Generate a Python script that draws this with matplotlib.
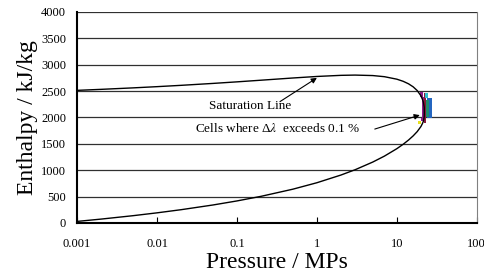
import numpy as np
import matplotlib
matplotlib.use('Agg')
import matplotlib.pyplot as plt

plt.rcParams['font.family'] = ['Liberation Serif', 'DejaVu Serif']
plt.rcParams['mathtext.fontset'] = 'stix'

# Saturation line of water (pressure MPa, enthalpy kJ/kg)
p_sat = [0.001, 0.002, 0.005, 0.01, 0.02, 0.05, 0.1, 0.2, 0.5, 1, 2, 3, 5, 7,
         10, 12, 14, 16, 18, 20, 21, 21.5, 22.0, 22.064]
h_liq = [29.3, 73.4, 137.7, 191.8, 251.4, 340.5, 417.5, 504.7, 640.1, 762.5,
         908.5, 1008.3, 1154.5, 1267.4, 1407.9, 1491.5, 1571.6, 1650.5,
         1732.2, 1827.1, 1889.4, 1930.0, 2011.0, 2084.3]
h_vap = [2513.7, 2532.9, 2560.7, 2583.9, 2608.9, 2645.2, 2674.9, 2706.2,
         2748.1, 2777.1, 2798.3, 2803.2, 2794.2, 2772.6, 2725.5, 2685.4,
         2637.9, 2580.8, 2509.5, 2411.4, 2337.0, 2287.0, 2195.0, 2084.3]

# Cells where the deviation exceeds 0.1 % (pressure range, enthalpy range)
cell_p_lo = [24.0, 22.8, 21.6, 22.4, 19.6, 20.6, 19.8, 18.6]
cell_p_hi = [27.4, 25.0, 23.4, 24.6, 21.4, 22.0, 21.4, 20.0]
cell_h_lo = [1990, 2000, 1900, 2370, 2380, 1980, 1930, 1875]
cell_h_hi = [2370, 2330, 2460, 2460, 2480, 2380, 1990, 1930]
cell_colors = ['#2466C0', '#1F8F6F', '#8B1A3A', '#30C0D0',
               '#8B1A8B', '#8B1A8B', '#8B1A8B', '#E8E020']

yticks = [0, 500, 1000, 1500, 2000, 2500, 3000, 3500, 4000]
xticks = [0.001, 0.01, 0.1, 1, 10, 100]
xticklabels = ['0.001', '0.01', '0.1', '1', '10', '100']

fig = plt.figure(figsize=(4.85, 2.78), dpi=100)
ax = fig.add_axes([0.159, 0.198, 0.824, 0.759])

for y in yticks:
    ax.axhline(y, color='#303030', lw=0.9, zorder=1)

for lo, hi, hl, hh, c in zip(cell_p_lo, cell_p_hi, cell_h_lo, cell_h_hi, cell_colors):
    ax.bar(lo, hh - hl, width=hi - lo, bottom=hl, align='edge', color=c,
           edgecolor='none', zorder=2)

p_line = p_sat + p_sat[::-1]
h_line = h_liq + h_vap[::-1]
ax.plot(p_line, h_line, color='black', lw=1.0, zorder=3)

ax.set_xscale('log')
ax.set_xlim(0.001, 100)
ax.set_ylim(0, 4000)
ax.set_xticks(xticks)
ax.set_xticklabels(xticklabels)
ax.minorticks_off()
ax.set_yticks(yticks)
ax.tick_params(axis='x', direction='in', length=4, labelsize=9, pad=11)
ax.tick_params(axis='y', length=0, labelsize=9, pad=8)

ax.spines['top'].set_visible(False)
ax.spines['right'].set_color('#808080')
ax.spines['left'].set_linewidth(1.5)
ax.spines['bottom'].set_linewidth(1.5)

ax.set_xlabel('Pressure / MPs', fontsize=17, labelpad=1)
ax.set_ylabel('Enthalpy / kJ/kg', fontsize=17, labelpad=2)

ax.text(0.0447, 2216, 'Saturation Line', fontsize=9.5, va='center', ha='left')
ax.annotate('', xy=(1.0, 2750), xytext=(0.345, 2300),
            arrowprops=dict(arrowstyle='-|>', color='black', lw=0.8,
                            mutation_scale=8, shrinkA=0, shrinkB=0))
ax.text(0.0299, 1799, 'Cells where Δ$\\lambda$  exceeds 0.1 %', fontsize=9.5,
        va='center', ha='left')
ax.annotate('', xy=(19.4, 2045), xytext=(5.3, 1780),
            arrowprops=dict(arrowstyle='-|>', color='black', lw=0.8,
                            mutation_scale=8, shrinkA=0, shrinkB=0))

fig.savefig('out.png', dpi=100)
